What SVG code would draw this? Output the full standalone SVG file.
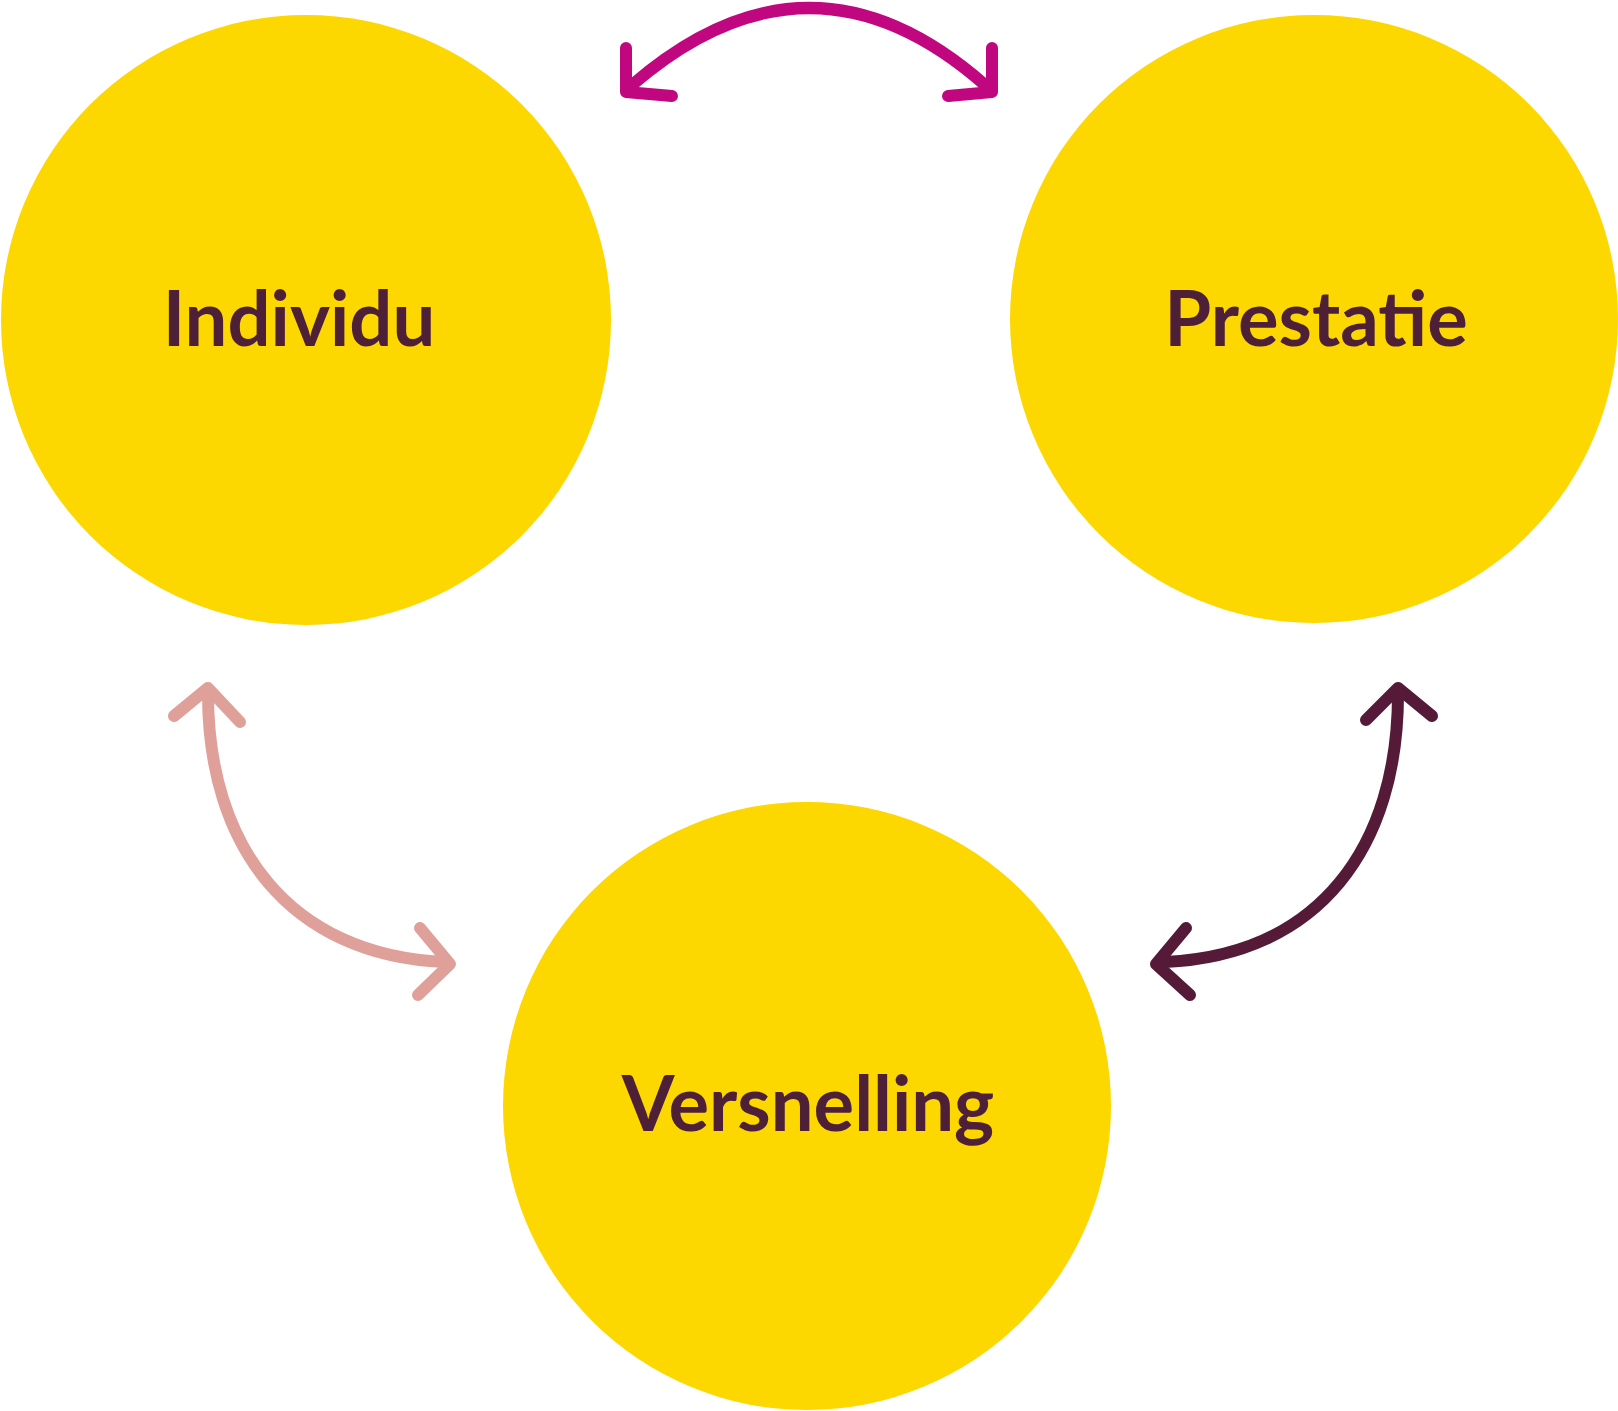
<svg xmlns="http://www.w3.org/2000/svg" width="1618" height="1411" viewBox="0 0 1618 1411">
<style>
.c{fill:#fdd700}
.t{font-family:Lato,"Liberation Sans",sans-serif;font-weight:bold;font-size:76px;fill:#4e2038;text-anchor:middle}
.a{fill:none;stroke-width:12;stroke-linecap:round;stroke-linejoin:round}
</style>
<rect width="1618" height="1411" fill="#fff"/>
<g id="individu"><circle class="c" cx="306" cy="320" r="305"/><text class="t" x="299" y="346">Individu</text></g>
<g id="prestatie"><circle class="c" cx="1314" cy="319" r="304"/><text class="t" x="1316" y="346">Prestatie</text></g>
<g id="versnelling"><circle class="c" cx="807" cy="1106" r="304"/><text class="t" x="808" y="1131">Versnelling</text></g>
<g id="connectors">
<g stroke="#c0077f" class="a"><path d="M632 85 Q810 -69 985 85"/><polyline points="626,48 626,92 672,96"/><polyline points="992,48 992,92 948,96"/></g>
<g stroke="#e0a09a" class="a"><path d="M208 694 C208 846 289 955 444 962"/><polyline points="174,716 208,688 240,722"/><polyline points="420,928 450,964 418,995"/></g>
<g stroke="#561a39" class="a"><path d="M1398 694 C1398 846 1320 955 1165 962"/><polyline points="1366,720 1398,688 1432,716"/><polyline points="1186,928 1156,964 1190,995"/></g>
</g>
</svg>
